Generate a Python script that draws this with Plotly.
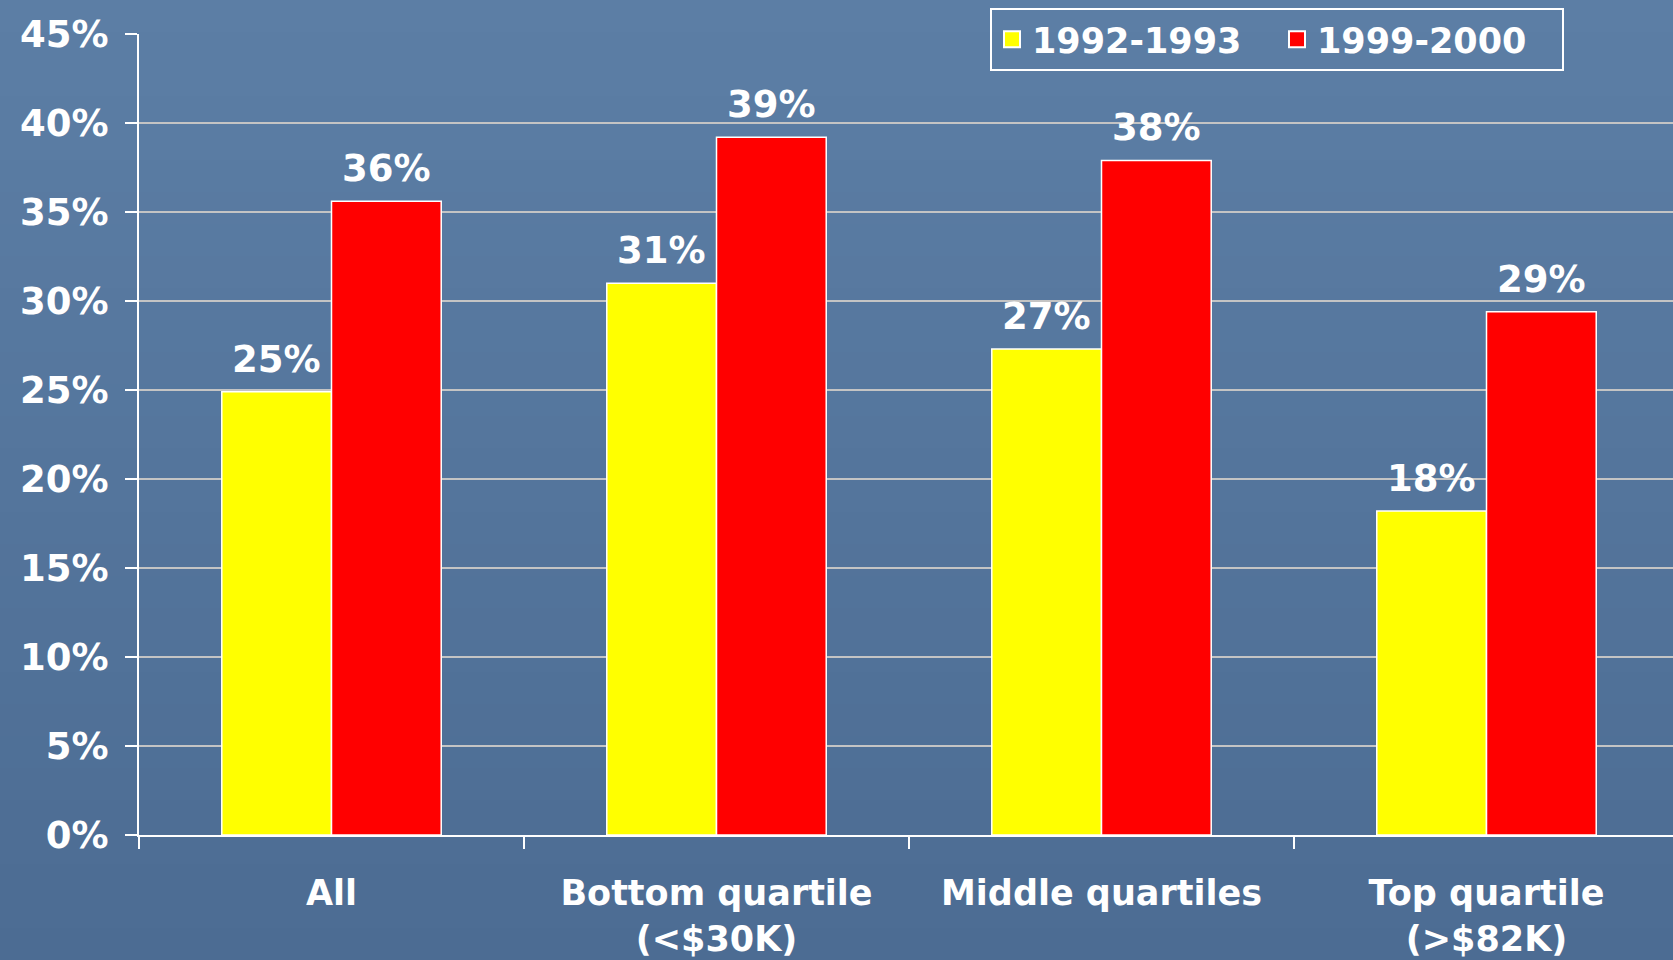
import plotly.graph_objects as go

categories = ["All", "Bottom quartile<br>(<$30K)", "Middle quartiles", "Top quartile<br>(>$82K)"]
series_names = ["1992-1993", "1999-2000"]
values_1992 = [24.9, 31.0, 27.3, 18.2]
values_1999 = [35.6, 39.2, 37.9, 29.4]
labels_1992 = ["25%", "31%", "27%", "18%"]
labels_1999 = ["36%", "39%", "38%", "29%"]
colors = ["#FFFF00", "#FF0000"]

W, H = 1673, 960
ML, MR, MT, MB = 139, 0, 34, 125
FONT = dict(family="DejaVu Sans", size=37, color="white", weight="bold")
XFONT = dict(family="DejaVu Sans", size=35, color="white", weight="bold")
LFONT = dict(family="DejaVu Sans", size=35, color="white", weight="bold")
CAT_PX = 385.0
BAR_GAP = 0.43
BAR_PX = CAT_PX * (1 - BAR_GAP) / 2

fig = go.Figure()
for name, vals, col in [(series_names[0], values_1992, colors[0]),
                        (series_names[1], values_1999, colors[1])]:
    fig.add_trace(go.Bar(
        x=categories, y=vals, name=name,
        marker=dict(color=col, line=dict(color="white", width=1.5)),
        showlegend=False, hoverinfo="skip"))
    fig.add_trace(go.Scatter(
        x=[None], y=[None], mode="markers", name=name,
        marker=dict(symbol="square", size=16, color=col, line=dict(color="white", width=2))))

annotations = []
for vals, labs, sgn in [(values_1992, labels_1992, -1), (values_1999, labels_1999, 1)]:
    for cat, v, lab in zip(categories, vals, labs):
        annotations.append(dict(x=cat, y=v, xref="x", yref="y", text=lab,
                                showarrow=False, xanchor="center", yanchor="bottom",
                                xshift=sgn * BAR_PX / 2, yshift=9, font=FONT))

# background gradient bands
pw = W - ML - MR
ph = H - MT - MB
x0 = -ML / pw
y0 = -MB / ph
y1 = 1 + MT / ph
n = 30
top = (92, 126, 165)
bot = (76, 108, 147)
shapes = []
for i in range(n):
    t = i / (n - 1)
    c = tuple(int(round(top[k] + (bot[k] - top[k]) * t)) for k in range(3))
    ya = y1 - (y1 - y0) * i / n
    yb = y1 - (y1 - y0) * (i + 1) / n
    shapes.append(dict(type="rect", xref="paper", yref="paper", x0=x0, x1=1.01,
                       y0=yb, y1=ya, fillcolor="rgb(%d,%d,%d)" % c,
                       line=dict(width=0), layer="below"))

fig.update_layout(
    width=W, height=H,
    margin=dict(l=ML, r=MR, t=MT, b=MB, pad=0),
    paper_bgcolor="#587AA0", plot_bgcolor="rgba(0,0,0,0)",
    barmode="group", bargap=BAR_GAP, bargroupgap=0,
    shapes=shapes, annotations=annotations,
    font=FONT,
    legend=dict(orientation="h", x=(990 - ML) / pw, y=1 + (34 - 8) / ph,
                xanchor="left", yanchor="top", bgcolor="rgba(0,0,0,0)",
                bordercolor="white", borderwidth=2, font=LFONT,
                itemsizing="trace", entrywidth=240, tracegroupgap=0),
    xaxis=dict(range=[-0.5, -0.5 + pw / CAT_PX], showgrid=False, showline=True,
               linecolor="white", linewidth=2, ticks="outside", tickson="boundaries",
               ticklen=12, tickwidth=2, tickcolor="white", tickfont=XFONT,
               ticklabelstandoff=26, fixedrange=True),
    yaxis=dict(range=[0, 45], dtick=5, ticksuffix="%", showgrid=True,
               gridcolor="#C4C4C4", gridwidth=2, showline=True, linecolor="white",
               linewidth=2, ticks="outside", ticklen=12, tickwidth=2, tickcolor="white",
               tickfont=FONT, ticklabelstandoff=9, zeroline=False, fixedrange=True),
)

fig.write_html("out.html", config={"displayModeBar": False},
               post_script="document.body.style.margin='0px';document.body.style.overflow='hidden';")
